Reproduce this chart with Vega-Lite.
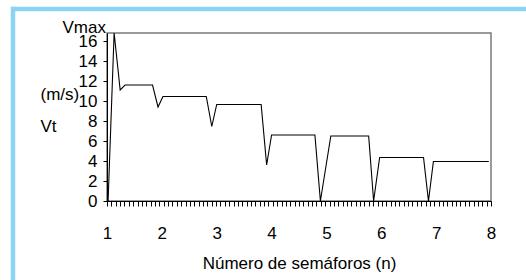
{
  "$schema": "https://vega.github.io/schema/vega-lite/v6.json",
  "width": 384,
  "height": 168,
  "autosize": {"type": "none"},
  "padding": {"left": 107, "top": 33, "right": 35, "bottom": 79},
  "background": "white",
  "config": {
    "view": {"stroke": "#7a7a7a", "strokeWidth": 1.5},
    "font": "Liberation Sans",
    "axis": {
      "grid": false,
      "domainColor": "black",
      "domainWidth": 1,
      "tickColor": "black",
      "labelColor": "black",
      "titleColor": "black",
      "labelFont": "Liberation Sans",
      "titleFont": "Liberation Sans",
      "labelFontSize": 17,
      "titleFontSize": 17,
      "titleFontWeight": "normal"
    }
  },
  "data": {
    "values": [
      {"n": 1.02, "v": 0},
      {"n": 1.13, "v": 16.8},
      {"n": 1.24, "v": 11.1},
      {"n": 1.33, "v": 11.6},
      {"n": 1.83, "v": 11.6},
      {"n": 1.93, "v": 9.4},
      {"n": 2.02, "v": 10.45},
      {"n": 2.81, "v": 10.45},
      {"n": 2.91, "v": 7.45},
      {"n": 3.0, "v": 9.65},
      {"n": 3.81, "v": 9.65},
      {"n": 3.91, "v": 3.6},
      {"n": 4.0, "v": 6.6},
      {"n": 4.79, "v": 6.6},
      {"n": 4.89, "v": 0},
      {"n": 5.08, "v": 6.5},
      {"n": 5.77, "v": 6.5},
      {"n": 5.86, "v": 0},
      {"n": 5.97, "v": 4.35},
      {"n": 6.77, "v": 4.35},
      {"n": 6.86, "v": 0},
      {"n": 6.95, "v": 3.95},
      {"n": 7.96, "v": 3.95}
    ]
  },
  "resolve": {"axis": {"x": "independent", "y": "independent"}},
  "layer": [
    {
      "data": {"values": [{}]},
      "mark": {"type": "rule", "color": "#8ad4f4", "strokeWidth": 4.5, "clip": false},
      "encoding": {
        "x": {"datum": -0.75, "type": "quantitative", "scale": {"domain": [1, 8], "nice": false, "zero": false}, "axis": null},
        "x2": {"datum": 9},
        "y": {"datum": 19.2, "type": "quantitative", "scale": {"domain": [0, 16.8], "nice": false, "zero": false}, "axis": null}
      }
    },
    {
      "data": {"values": [{}]},
      "mark": {"type": "rule", "color": "#8ad4f4", "strokeWidth": 4.5, "clip": false},
      "encoding": {
        "x": {"datum": -0.7135, "type": "quantitative", "scale": {"domain": [1, 8], "nice": false, "zero": false}, "axis": null},
        "y": {"datum": 19.42, "type": "quantitative", "scale": {"domain": [0, 16.8], "nice": false, "zero": false}, "axis": null},
        "y2": {"datum": -8.5}
      }
    },
    {
      "mark": {"type": "line", "color": "black", "strokeWidth": 1.1},
      "encoding": {
        "x": {
          "field": "n", "type": "quantitative",
          "scale": {"domain": [1, 8], "nice": false, "zero": false},
          "axis": {"orient": "bottom", "values": [1, 2, 3, 4, 5, 6, 7, 8], "ticks": false, "domain": true, "labelPadding": 24, "title": "Número de semáforos (n)", "titlePadding": 14, "labelFlush": false}
        },
        "y": {
          "field": "v", "type": "quantitative",
          "scale": {"domain": [0, 16.8], "nice": false, "zero": false},
          "axis": {"orient": "left", "values": [0, 2, 4, 6, 8, 10, 12, 14, 16], "tickSize": 4, "labelPadding": 6, "labelFlush": false,
            "title": ["(m/s)", "Vt"], "titleAngle": 0, "titleAlign": "left", "titleBaseline": "top", "titleLineHeight": 32, "titleX": -67, "titleY": 53}
        }
      }
    },
    {
      "data": {"values": [{}]},
      "mark": {"type": "text", "text": "Vmax", "align": "right", "baseline": "alphabetic", "dx": -1, "dy": 0, "fontSize": 17, "color": "black", "clip": false},
      "encoding": {
        "x": {"datum": 1, "type": "quantitative", "scale": {"domain": [1, 8], "nice": false, "zero": false}, "axis": null},
        "y": {"datum": 16.8, "type": "quantitative", "scale": {"domain": [0, 16.8], "nice": false, "zero": false}, "axis": null}
      }
    },
    {
      "data": {"values": [{}]},
      "mark": {"type": "text", "text": ""},
      "encoding": {
        "x": {"datum": 1, "type": "quantitative", "scale": {"domain": [1, 8], "nice": false, "zero": false},
          "axis": {"orient": "bottom", "title": null, "labels": false, "domain": false, "ticks": true, "tickSize": 5, "tickWidth": 1,
            "values": [1, 1.0795, 1.1591, 1.2386, 1.3182, 1.3977, 1.4773, 1.5568, 1.6364, 1.7159]}},
        "y": {"datum": 0, "type": "quantitative", "scale": {"domain": [0, 16.8], "nice": false, "zero": false}, "axis": null}
      }
    },
    {
      "data": {"values": [{}]},
      "mark": {"type": "text", "text": ""},
      "encoding": {
        "x": {"datum": 1, "type": "quantitative", "scale": {"domain": [1, 8], "nice": false, "zero": false},
          "axis": {"orient": "bottom", "title": null, "labels": false, "domain": false, "ticks": true, "tickSize": 5, "tickWidth": 1,
            "values": [1.7955, 1.875, 1.9545, 2.0341, 2.1136, 2.1932, 2.2727, 2.3523, 2.4318, 2.5114]}},
        "y": {"datum": 0, "type": "quantitative", "scale": {"domain": [0, 16.8], "nice": false, "zero": false}, "axis": null}
      }
    },
    {
      "data": {"values": [{}]},
      "mark": {"type": "text", "text": ""},
      "encoding": {
        "x": {"datum": 1, "type": "quantitative", "scale": {"domain": [1, 8], "nice": false, "zero": false},
          "axis": {"orient": "bottom", "title": null, "labels": false, "domain": false, "ticks": true, "tickSize": 5, "tickWidth": 1,
            "values": [2.5909, 2.6705, 2.75, 2.8295, 2.9091, 2.9886, 3.0682, 3.1477, 3.2273, 3.3068]}},
        "y": {"datum": 0, "type": "quantitative", "scale": {"domain": [0, 16.8], "nice": false, "zero": false}, "axis": null}
      }
    },
    {
      "data": {"values": [{}]},
      "mark": {"type": "text", "text": ""},
      "encoding": {
        "x": {"datum": 1, "type": "quantitative", "scale": {"domain": [1, 8], "nice": false, "zero": false},
          "axis": {"orient": "bottom", "title": null, "labels": false, "domain": false, "ticks": true, "tickSize": 5, "tickWidth": 1,
            "values": [3.3864, 3.4659, 3.5455, 3.625, 3.7045, 3.7841, 3.8636, 3.9432, 4.0227, 4.1023]}},
        "y": {"datum": 0, "type": "quantitative", "scale": {"domain": [0, 16.8], "nice": false, "zero": false}, "axis": null}
      }
    },
    {
      "data": {"values": [{}]},
      "mark": {"type": "text", "text": ""},
      "encoding": {
        "x": {"datum": 1, "type": "quantitative", "scale": {"domain": [1, 8], "nice": false, "zero": false},
          "axis": {"orient": "bottom", "title": null, "labels": false, "domain": false, "ticks": true, "tickSize": 5, "tickWidth": 1,
            "values": [4.1818, 4.2614, 4.3409, 4.4205, 4.5, 4.5795, 4.6591, 4.7386, 4.8182, 4.8977]}},
        "y": {"datum": 0, "type": "quantitative", "scale": {"domain": [0, 16.8], "nice": false, "zero": false}, "axis": null}
      }
    },
    {
      "data": {"values": [{}]},
      "mark": {"type": "text", "text": ""},
      "encoding": {
        "x": {"datum": 1, "type": "quantitative", "scale": {"domain": [1, 8], "nice": false, "zero": false},
          "axis": {"orient": "bottom", "title": null, "labels": false, "domain": false, "ticks": true, "tickSize": 5, "tickWidth": 1,
            "values": [4.9773, 5.0568, 5.1364, 5.2159, 5.2955, 5.375, 5.4545, 5.5341, 5.6136, 5.6932]}},
        "y": {"datum": 0, "type": "quantitative", "scale": {"domain": [0, 16.8], "nice": false, "zero": false}, "axis": null}
      }
    },
    {
      "data": {"values": [{}]},
      "mark": {"type": "text", "text": ""},
      "encoding": {
        "x": {"datum": 1, "type": "quantitative", "scale": {"domain": [1, 8], "nice": false, "zero": false},
          "axis": {"orient": "bottom", "title": null, "labels": false, "domain": false, "ticks": true, "tickSize": 5, "tickWidth": 1,
            "values": [5.7727, 5.8523, 5.9318, 6.0114, 6.0909, 6.1705, 6.25, 6.3295, 6.4091, 6.4886]}},
        "y": {"datum": 0, "type": "quantitative", "scale": {"domain": [0, 16.8], "nice": false, "zero": false}, "axis": null}
      }
    },
    {
      "data": {"values": [{}]},
      "mark": {"type": "text", "text": ""},
      "encoding": {
        "x": {"datum": 1, "type": "quantitative", "scale": {"domain": [1, 8], "nice": false, "zero": false},
          "axis": {"orient": "bottom", "title": null, "labels": false, "domain": false, "ticks": true, "tickSize": 5, "tickWidth": 1,
            "values": [6.5682, 6.6477, 6.7273, 6.8068, 6.8864, 6.9659, 7.0455, 7.125, 7.2045, 7.2841]}},
        "y": {"datum": 0, "type": "quantitative", "scale": {"domain": [0, 16.8], "nice": false, "zero": false}, "axis": null}
      }
    },
    {
      "data": {"values": [{}]},
      "mark": {"type": "text", "text": ""},
      "encoding": {
        "x": {"datum": 1, "type": "quantitative", "scale": {"domain": [1, 8], "nice": false, "zero": false},
          "axis": {"orient": "bottom", "title": null, "labels": false, "domain": false, "ticks": true, "tickSize": 5, "tickWidth": 1,
            "values": [7.3636, 7.4432, 7.5227, 7.6023, 7.6818, 7.7614, 7.8409, 7.9205, 8]}},
        "y": {"datum": 0, "type": "quantitative", "scale": {"domain": [0, 16.8], "nice": false, "zero": false}, "axis": null}
      }
    }
  ]
}
